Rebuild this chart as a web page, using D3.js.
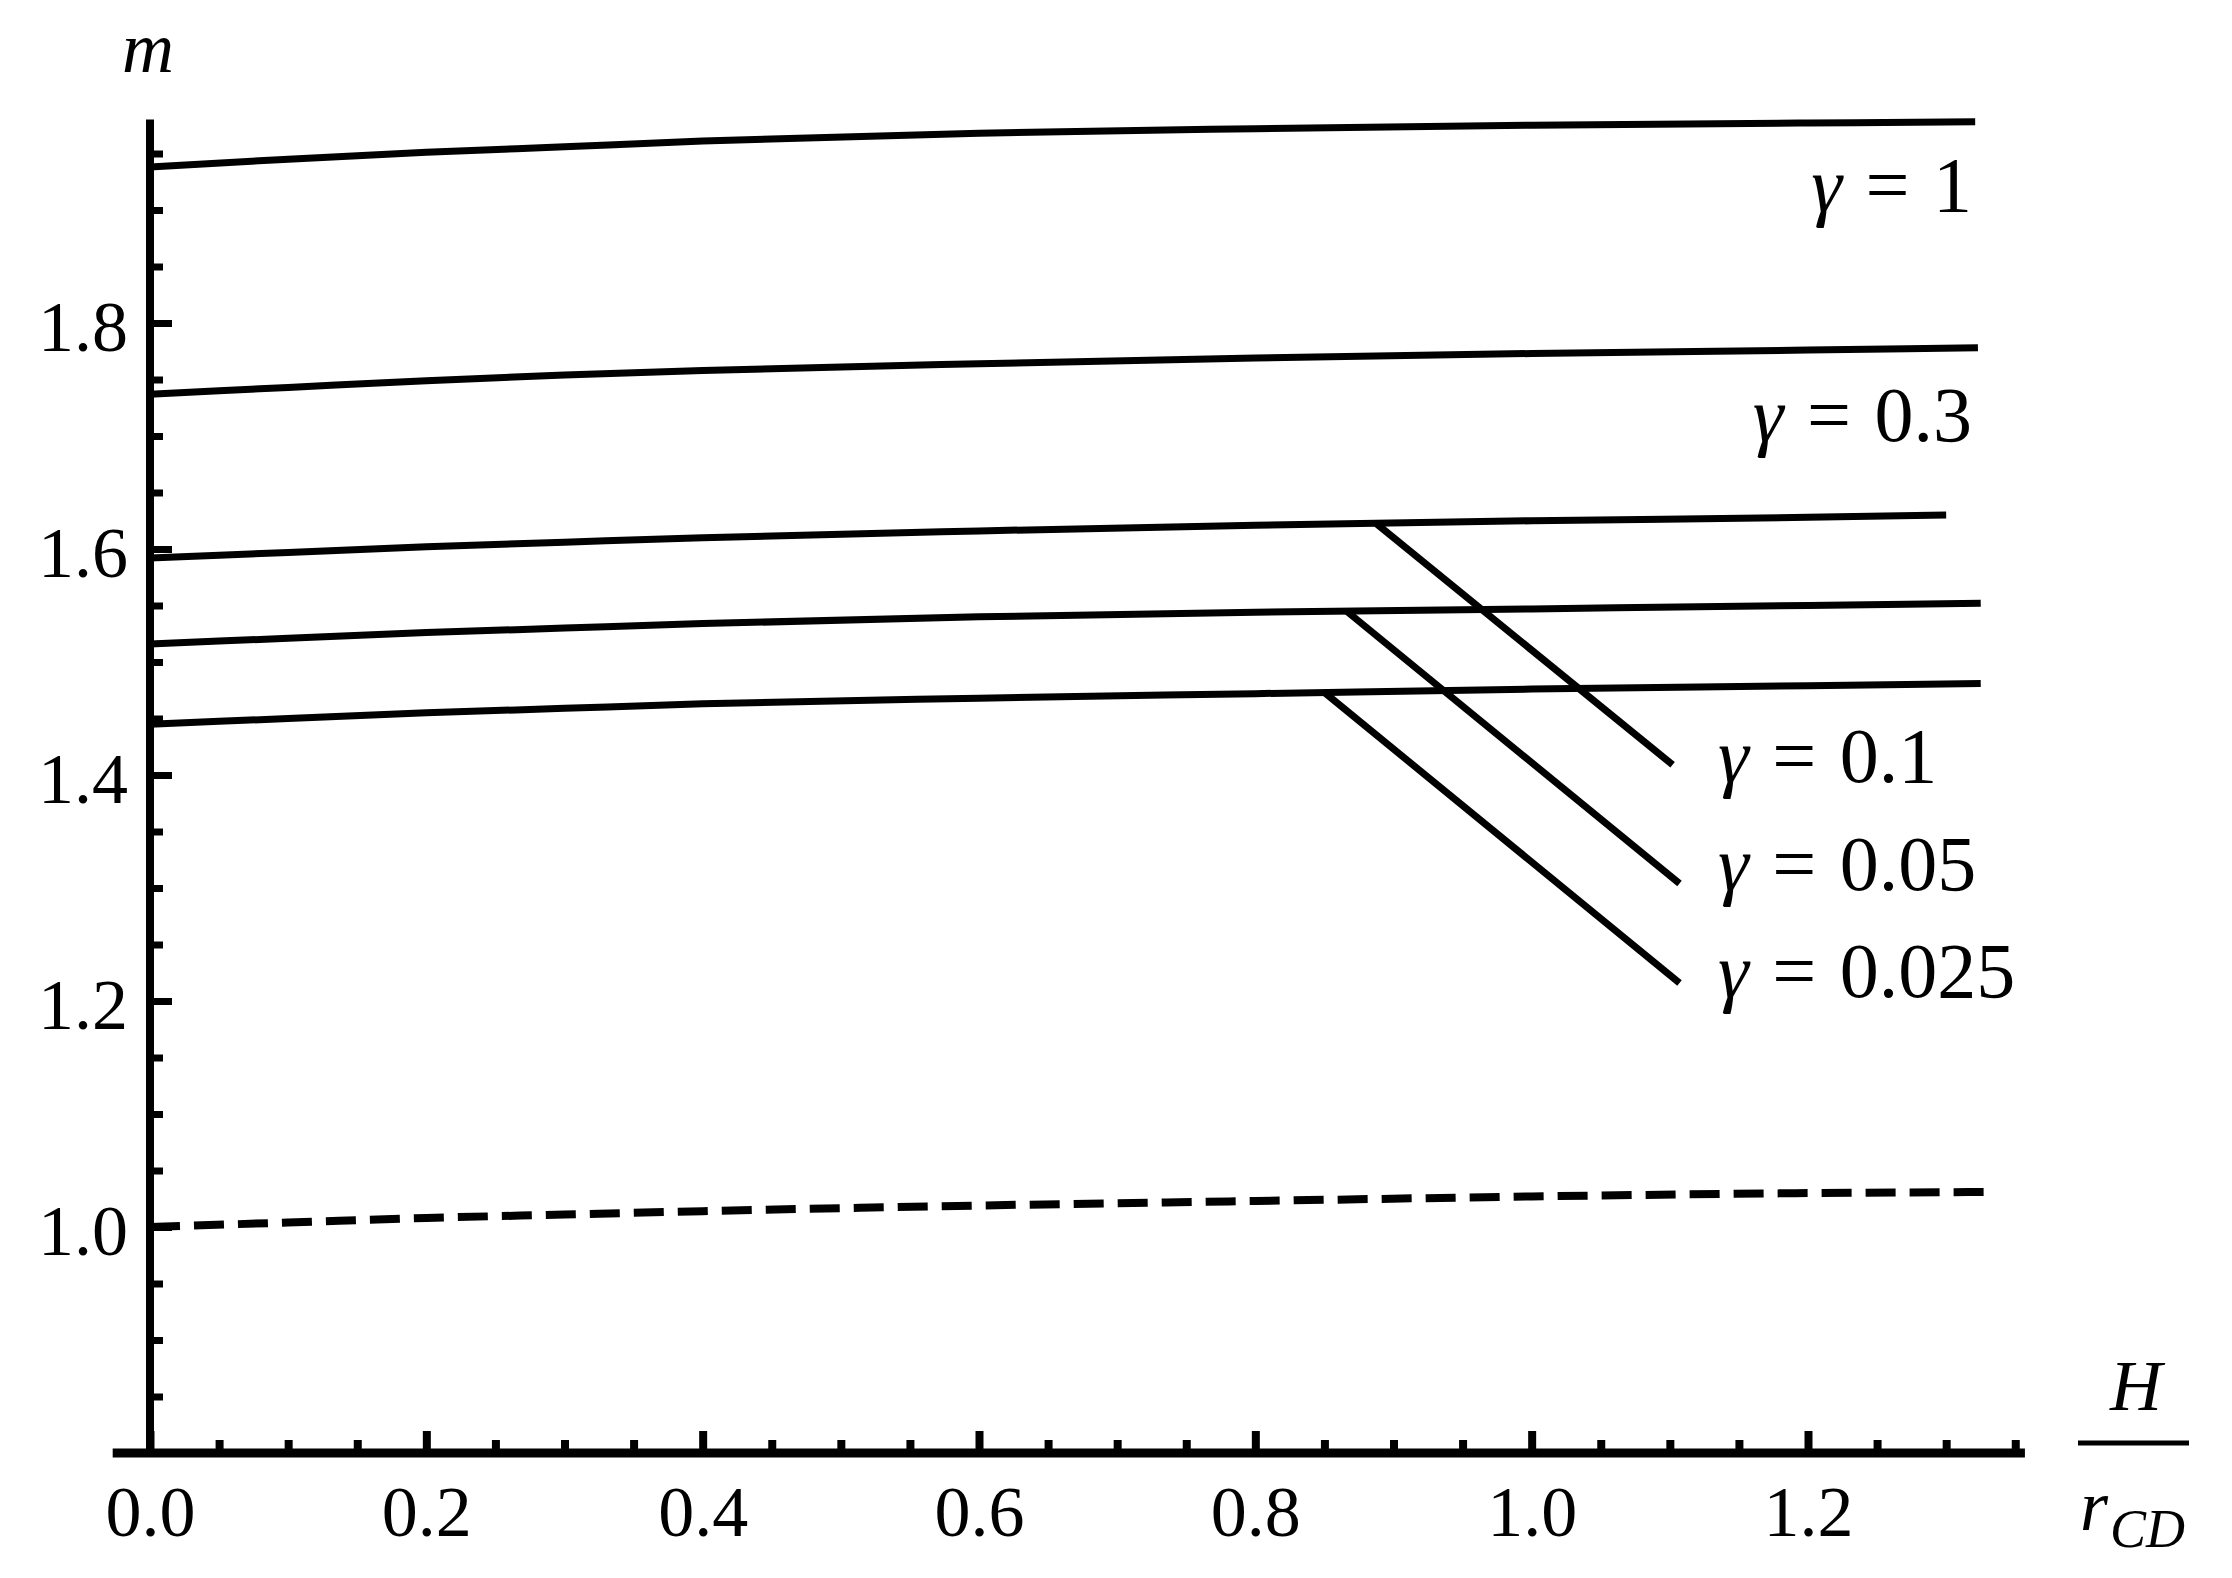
<!DOCTYPE html>
<html>
<head>
<meta charset="utf-8">
<script src="https://cdn.jsdelivr.net/npm/d3@7"></script>
<style>
  html, body { margin: 0; padding: 0; background: #fff; }
  svg { display: block; }
  text { font-family: "Liberation Serif", "Times New Roman", serif; fill: #000; }
</style>
</head>
<body>
<svg id="chart" width="2232" height="1578"></svg>
<script>
// ---- data ----
const xGrid = [0, 0.1, 0.2, 0.3, 0.4, 0.6, 0.8, 1.0, 1.2];
const gammaValues = ["1", "0.3", "0.1", "0.05", "0.025"];
const mGamma1    = [1.938, 1.945, 1.951, 1.956, 1.961, 1.968, 1.972, 1.975, 1.977];
const mGamma03   = [1.737, 1.743, 1.749, 1.754, 1.758, 1.764, 1.769, 1.773, 1.776];
const mGamma01   = [1.592, 1.597, 1.602, 1.606, 1.610, 1.616, 1.621, 1.625, 1.628];
const mGamma005  = [1.516, 1.521, 1.526, 1.530, 1.534, 1.540, 1.544, 1.547, 1.550];
const mGamma0025 = [1.445, 1.450, 1.455, 1.459, 1.463, 1.468, 1.472, 1.476, 1.479];
const mDashed    = [1.000, 1.004, 1.008, 1.011, 1.014, 1.019, 1.023, 1.027, 1.030];
// last point of each curve (x, m)
const endGamma1    = [1.321, 1.978];
const endGamma03   = [1.323, 1.778];
const endGamma01   = [1.300, 1.630];
const endGamma005  = [1.325, 1.552];
const endGamma0025 = [1.325, 1.481];
const endDashed    = [1.334, 1.031];
// descending branches (start, end) for gamma = 0.1, 0.05, 0.025
const branchStart = [[0.887, 1.623], [0.866, 1.545], [0.850, 1.473]];
const branchEnd   = [[1.102, 1.409], [1.107, 1.304], [1.107, 1.216]];
// ticks
const xMajorTicks = [0.0, 0.2, 0.4, 0.6, 0.8, 1.0, 1.2];
const xMinorTicks = [0.05,0.1,0.15,0.25,0.3,0.35,0.45,0.5,0.55,0.65,0.7,0.75,0.85,0.9,0.95,1.05,1.1,1.15,1.25,1.3,1.35];
const yMajorTicks = [1.0, 1.2, 1.4, 1.6, 1.8];
const yMinorTicks = [0.85,0.9,0.95,1.05,1.1,1.15,1.25,1.3,1.35,1.45,1.5,1.55,1.65,1.7,1.75,1.85,1.9,1.95];

// ---- scales ----
const x = d3.scaleLinear().domain([0, 1.2]).range([150, 1808]);
const y = d3.scaleLinear().domain([1.0, 1.8]).range([1227, 323]);
const xMin = -0.027, xMax = 1.357, yMin = 0.8, yMax = 1.98;

const svg = d3.select("#chart");
const FS = 72;

// ---- axes ----
svg.append("g").attr("transform", `translate(0,${y(yMin)})`)
  .call(d3.axisBottom(x).tickValues(xMinorTicks).tickSize(-13).tickFormat(""))
  .call(g => g.select(".domain").remove())
  .call(g => g.selectAll(".tick line").attr("stroke", "#000").attr("stroke-width", 8));
svg.append("g").attr("transform", `translate(0,${y(yMin)})`)
  .call(d3.axisBottom(x).tickValues(xMajorTicks).tickSize(-22).tickPadding(58).tickFormat(d3.format(".1f")))
  .call(g => g.select(".domain").remove())
  .call(g => g.selectAll(".tick line").attr("stroke", "#000").attr("stroke-width", 8))
  .call(g => g.selectAll(".tick text").attr("font-size", FS).attr("font-family", "Liberation Serif, serif").attr("fill", "#000").attr("dy", "0.35em"));

svg.append("g").attr("transform", `translate(${x(0)},0)`)
  .call(d3.axisLeft(y).tickValues(yMinorTicks).tickSize(-13).tickFormat(""))
  .call(g => g.select(".domain").remove())
  .call(g => g.selectAll(".tick line").attr("stroke", "#000").attr("stroke-width", 7));
svg.append("g").attr("transform", `translate(${x(0)},0)`)
  .call(d3.axisLeft(y).tickValues(yMajorTicks).tickSize(-22).tickPadding(22).tickFormat(d3.format(".1f")))
  .call(g => g.select(".domain").remove())
  .call(g => g.selectAll(".tick line").attr("stroke", "#000").attr("stroke-width", 7))
  .call(g => g.selectAll(".tick text").attr("font-size", FS).attr("font-family", "Liberation Serif, serif").attr("fill", "#000").attr("dy", "0.38em"));

// axis lines
svg.append("line").attr("x1", x(xMin)).attr("x2", x(xMax)).attr("y1", y(yMin)).attr("y2", y(yMin))
  .attr("stroke", "#000").attr("stroke-width", 9);
svg.append("line").attr("x1", x(0)).attr("x2", x(0)).attr("y1", y(yMin)).attr("y2", y(yMax))
  .attr("stroke", "#000").attr("stroke-width", 8);

// ---- curves ----
const line = d3.line().x(d => x(d[0])).y(d => y(d[1])).curve(d3.curveMonotoneX);
function pts(vals, end) { return xGrid.map((xv, i) => [xv, vals[i]]).concat([end]); }
const solid = [
  pts(mGamma1, endGamma1), pts(mGamma03, endGamma03), pts(mGamma01, endGamma01),
  pts(mGamma005, endGamma005), pts(mGamma0025, endGamma0025)
];
solid.forEach(p => svg.append("path").attr("d", line(p)).attr("fill", "none")
  .attr("stroke", "#000").attr("stroke-width", 7));
svg.append("path").attr("d", line(pts(mDashed, endDashed))).attr("fill", "none")
  .attr("stroke", "#000").attr("stroke-width", 8).attr("stroke-dasharray", "30,14");
branchStart.forEach((s, i) => svg.append("line")
  .attr("x1", x(s[0])).attr("y1", y(s[1])).attr("x2", x(branchEnd[i][0])).attr("y2", y(branchEnd[i][1]))
  .attr("stroke", "#000").attr("stroke-width", 7));

// ---- gamma labels ----
function gammaLabel(xp, yp, anchor, val) {
  const t = svg.append("text").attr("x", xp).attr("y", yp).attr("font-size", 78)
    .attr("text-anchor", anchor).attr("xml:space", "preserve");
  t.append("tspan").attr("font-style", "italic").text("γ");
  t.append("tspan").attr("dx", 4).text(" =");
  t.append("tspan").attr("dx", 4).text(" " + val);
}
gammaLabel(1972, 211, "end", gammaValues[0]);
gammaLabel(1972, 441, "end", gammaValues[1]);
gammaLabel(1718, 782, "start", gammaValues[2]);
gammaLabel(1718, 890, "start", gammaValues[3]);
gammaLabel(1718, 997, "start", gammaValues[4]);

// ---- axis titles ----
svg.append("text").attr("x", 148).attr("y", 72).attr("font-size", FS).attr("font-style", "italic")
  .attr("text-anchor", "middle").text("m");
svg.append("text").attr("x", 2136).attr("y", 1410).attr("font-size", FS).attr("font-style", "italic")
  .attr("text-anchor", "middle").text("H");
svg.append("line").attr("x1", 2078).attr("x2", 2189).attr("y1", 1443).attr("y2", 1443)
  .attr("stroke", "#000").attr("stroke-width", 5);
const rt = svg.append("text").attr("x", 2080).attr("y", 1530).attr("font-size", FS).attr("font-style", "italic");
rt.append("tspan").text("r");
rt.append("tspan").attr("font-size", 54).attr("dy", 17).attr("dx", 2).text("CD");
</script>
</body>
</html>
